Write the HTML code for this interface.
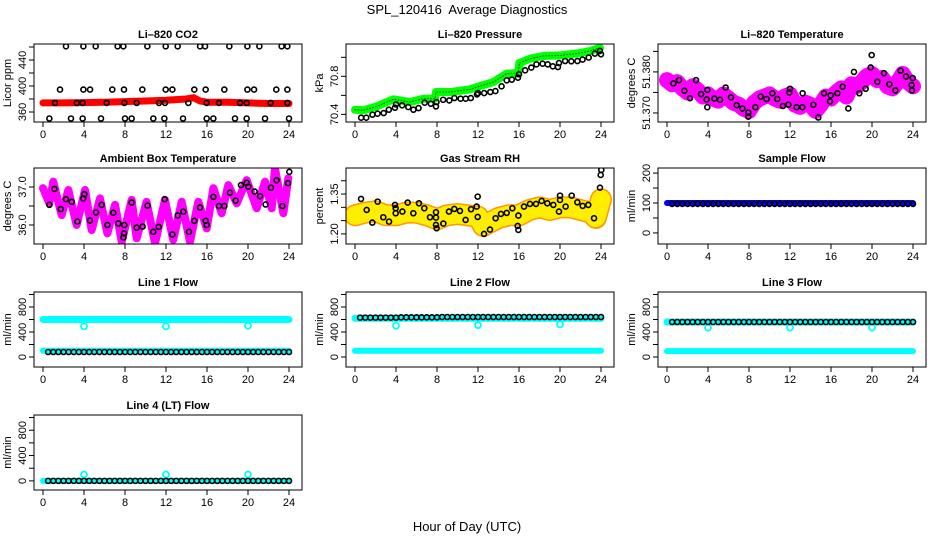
<!DOCTYPE html>
<html><head><meta charset="utf-8"><title>SPL_120416 Average Diagnostics</title>
<style>
html,body{margin:0;padding:0;background:#fff;}
svg{display:block;font-family:"Liberation Sans",Arial,sans-serif;}
</style></head>
<body>
<svg id="chart" width="936" height="540" viewBox="0 0 936 540" xmlns="http://www.w3.org/2000/svg">
<rect x="0" y="0" width="936" height="540" fill="#fff"/>
<text x="467" y="14" text-anchor="middle" font-size="13" style="white-space:pre">SPL_120416  Average Diagnostics</text>
<text x="467" y="531" text-anchor="middle" font-size="13">Hour of Day (UTC)</text>
</svg>
<script>
const xTicks=[0,4,8,12,16,20,24];
const halfHours=[0.5,1,1.5,2,2.5,3,3.5,4,4.5,5,5.5,6,6.5,7,7.5,8,8.5,9,9.5,10,10.5,11,11.5,12,12.5,13,13.5,14,14.5,15,15.5,16,16.5,17,17.5,18,18.5,19,19.5,20,20.5,21,21.5,22,22.5,23,23.5,24];
const bandTimes=[0,4,8,12,16,20,24];
const dipTimes=[4,12,20];

// CO2
const co2Times=[2.24,3.94,5.14,7.28,7.84,10.18,11.97,13.14,15.32,15.81,18.18,19.94,21.11,23.28,23.84,
1.66,3.94,4.59,6.76,7.9,9.69,11.97,12.62,14.76,15.87,17.69,19.94,20.59,22.76,23.84,
1.17,3.3,3.87,6.21,7.93,9.14,11.32,11.9,14.18,15.97,17.17,19.22,19.87,22.21,23.84,
0.62,2.73,3.87,5.66,8.0,8.65,10.76,11.84,13.66,15.97,16.62,18.73,19.87,21.66,24.0];
const co2Values=[461,461,461,461,461,461,461,461,461,461,461,461,461,461,461,
394.5,394.5,394.5,394.5,394.5,394.5,394.5,394.5,394.5,394.5,394.5,394.5,394.5,394.5,394.5,
374,374,374,374,374,374,374,374,374,374,374,374,374,374,374,
350,350,350,350,350,350,350,350,350,350,350,350,350,350,350];
const co2RedTimes=[0,2,4,6,8,10,12,13,14,14.7,15.3,16,18,20,22,24];
const co2RedValues=[374,374,374.5,375,376,377,378,379,380,382,377,375,375,374,373,373];

// Pressure
const presGreenTimes=[0,0.81,2.11,3.74,5.37,6.67,7.8,7.9,9.27,11.22,11.87,13.5,14.8,15.94,16.03,17.07,18.37,20.0,21.63,22.93,23.9];
const presGreenValues=[70.449,70.443,70.484,70.558,70.53,70.565,70.565,70.635,70.635,70.663,70.687,70.74,70.828,70.835,70.94,70.986,71.014,71.02,71.04,71.066,71.10];
const presBlackTimes=[0.6,1.1,1.7,2.2,2.8,3.3,3.9,4.0,4.6,5.2,5.7,6.2,6.8,7.4,7.9,7.95,8.6,9.2,9.7,10.3,10.8,11.3,11.9,12.0,12.6,13.2,13.7,14.3,14.8,15.3,15.9,16.0,16.6,17.2,17.7,18.3,18.8,19.3,19.8,19.9,20.5,21.1,21.7,22.2,22.8,23.4,23.9,24.0];
const presBlackValues=[70.365,70.365,70.397,70.407,70.414,70.449,70.47,70.505,70.495,70.477,70.449,70.466,70.523,70.512,70.484,70.53,70.554,70.547,70.572,70.565,70.565,70.572,70.61,70.624,70.624,70.635,70.645,70.695,70.758,70.765,70.786,70.821,70.863,70.892,70.926,70.933,70.926,70.905,70.898,70.94,70.961,70.958,70.961,70.976,70.997,71.039,71.067,71.032];

// Li-820 temperature
const ltMagTimes=[0,0.5,1,1.5,2,2.5,3,3.5,4,4.5,5,5.5,6,6.5,7,7.5,8,8.5,9,9.5,10,10.5,11,11.5,12,12.5,13,13.5,14,14.5,15,15.5,16,16.5,17,17.5,18,18.5,19,19.5,20,20.5,21,21.5,22,22.5,23,23.5,24];
const ltMagValues=[51.3780,51.3770,51.3775,51.3760,51.3750,51.3765,51.3755,51.3740,51.3745,51.3735,51.3730,51.3745,51.3735,51.3725,51.3720,51.3710,51.3705,51.3725,51.3735,51.3740,51.3745,51.3735,51.3730,51.3740,51.3745,51.3720,51.3715,51.3725,51.3720,51.3705,51.3720,51.3740,51.3735,51.3750,51.3760,51.3740,51.3770,51.3765,51.3775,51.3790,51.3795,51.3780,51.3785,51.3765,51.3760,51.3775,51.3795,51.3775,51.3765];
const ltBlackTimes=[0.62,1.17,1.69,2.24,2.83,3.32,3.93,3.87,3.93,4.62,5.17,5.72,6.24,6.8,7.35,7.93,7.93,8.62,9.14,9.72,10.28,10.76,11.31,11.84,11.93,12.0,12.65,13.2,13.23,14.28,14.76,15.32,15.97,15.9,16.62,17.14,17.69,18.24,18.76,19.38,19.87,19.97,20.52,21.17,21.69,22.28,22.8,23.32,23.87,23.97,23.9];
const ltBlackValues=[51.3772,51.3780,51.3754,51.3736,51.3780,51.3746,51.3756,51.3733,51.3714,51.3735,51.3732,51.3762,51.3738,51.3719,51.3711,51.3691,51.3701,51.3714,51.3740,51.3734,51.3748,51.3734,51.3717,51.3720,51.3750,51.3759,51.3714,51.3714,51.3748,51.3720,51.3689,51.3748,51.3743,51.3728,51.3748,51.3764,51.3711,51.3800,51.3748,51.3759,51.3811,51.3841,51.3776,51.3797,51.3770,51.3755,51.3803,51.3789,51.3768,51.3785,51.3755];

// Ambient box temperature
const ambMagTimes=[0,0.62,1.0,1.82,2.47,3.28,4.1,4.75,5.56,6.28,7.03,7.68,8.65,9.14,10.1,10.93,11.9,12.7,13.53,14.34,15.15,15.97,16.62,17.43,18.08,18.9,19.87,20.85,21.66,22.31,22.63,23.45,23.93];
const ambMagValues=[36.97,36.57,37.14,36.26,36.92,36.0,36.92,35.87,36.70,35.78,36.53,35.56,36.66,35.65,36.61,35.52,36.66,35.61,36.61,35.56,36.61,35.91,36.97,36.31,37.05,36.57,37.18,36.44,37.14,36.44,37.49,36.31,37.23];
const ambBlackTimes=[0.62,1.11,1.73,2.24,2.8,3.35,3.93,4.03,4.58,5.17,5.72,6.28,6.86,7.35,7.93,7.9,7.84,8.65,9.14,9.72,10.21,10.76,11.28,11.87,12.62,13.14,13.69,14.24,14.76,15.32,15.87,15.97,16.62,17.17,17.69,18.24,18.8,19.32,19.87,20.03,20.65,21.17,21.72,22.24,22.79,23.35,23.9,24.03];
const ambBlackValues=[36.53,36.95,36.42,36.68,36.61,36.09,36.70,36.81,36.12,36.33,36.53,36.0,36.32,36.04,36.0,35.78,35.67,36.59,35.93,35.96,36.51,35.82,35.95,36.68,35.75,36.25,36.35,35.82,36.11,36.46,36.11,36.0,36.74,36.50,36.50,36.85,36.64,37.05,37.11,37.01,36.88,36.76,36.54,36.98,37.18,36.50,37.10,37.40];

// Gas stream RH
const rhBandTimes=[0,1,2,3,4,5,6,7,8,9,10,11,12,12.5,13,14,15,16,17,18,19,20,21,22,23,23.5,24];
const rhBandValues=[1.27,1.28,1.285,1.27,1.27,1.28,1.28,1.27,1.255,1.27,1.275,1.27,1.265,1.23,1.24,1.26,1.27,1.27,1.29,1.30,1.29,1.30,1.30,1.29,1.28,1.26,1.33];
const rhBlackTimes=[0.59,1.14,1.69,2.21,2.76,3.32,3.9,3.97,3.97,4.62,5.14,5.69,6.24,6.76,7.32,7.9,7.9,7.9,7.96,8.62,9.17,9.69,10.24,10.79,11.32,11.87,11.97,11.97,12.59,13.17,13.72,14.24,14.8,15.35,15.94,15.87,15.94,16.49,17.07,17.66,18.21,18.76,19.35,19.9,20.0,20.0,20.55,21.14,21.69,22.21,22.76,23.32,23.9,23.97,24.03];
const rhBlackValues=[1.3316,1.2902,1.2425,1.3215,1.2627,1.2462,1.309,1.2965,1.2777,1.2840,1.3178,1.2777,1.3153,1.2965,1.2627,1.2614,1.2815,1.2338,1.2213,1.2388,1.2840,1.2940,1.2865,1.2526,1.2928,1.3028,1.2639,1.3403,1.2000,1.2163,1.2589,1.2752,1.2790,1.2965,1.2689,1.2301,1.2150,1.3028,1.3128,1.3128,1.3240,1.3153,1.3090,1.2840,1.3278,1.3440,1.3028,1.3440,1.3190,1.3053,1.3090,1.2589,1.3740,1.4218,1.4406];

// Sample flow
const sampleBlueValues=[100,100,100,100,100,100,100];
const sampleBlackValues=[97,97,97,97,97,97,97,97,97,97,97,97,97,97,97,97,97,97,97,97,97,97,97,97,97,97,97,97,97,97,97,97,97,97,97,97,97,97,97,97,97,97,97,97,97,97,97,97];

// Line flows
const line1CyanTop=[600,600,600,600,600,600,600];
const line1CyanLow=[100,100,100,100,100,100,100];
const line1Dips=[490,490,500];
const line1Black=[80,80,80,80,80,80,80,80,80,80,80,80,80,80,80,80,80,80,80,80,80,80,80,80,80,80,80,80,80,80,80,80,80,80,80,80,80,80,80,80,80,80,80,80,80,80,80,80];
const line2CyanTop=[620,620,620,620,620,620,620];
const line2CyanLow=[100,100,100,100,100,100,100];
const line2Dips=[500,510,520];
const line2Black=[630,630,630,630,630,630,630,630,635,635,635,635,635,635,635,635,640,640,640,640,640,640,640,640,640,640,640,640,640,640,640,640,640,640,640,640,640,640,640,640,640,640,640,640,640,640,640,640];
const line3CyanTop=[560,560,560,560,560,560,560];
const line3CyanLow=[95,95,95,95,95,95,95];
const line3Dips=[470,470,470];
const line3Black=[560,560,560,560,560,560,560,560,560,560,560,560,560,560,560,560,560,560,560,560,560,560,560,560,560,560,560,560,560,560,560,560,560,560,560,560,560,560,560,560,560,560,560,560,560,560,560,560];
const line4CyanLow=[0,0,0,0,0,0,0];
const line4Dips=[100,100,100];
const line4Black=[0,0,0,0,0,0,0,0,0,0,0,0,0,0,0,0,0,0,0,0,0,0,0,0,0,0,0,0,0,0,0,0,0,0,0,0,0,0,0,0,0,0,0,0,0,0,0,0];

const flowTicks=[0,200,400,600,800,1000];
const flowLabels=["0","","400","","800",""];

const NS="http://www.w3.org/2000/svg";
const svg=document.getElementById("chart");
const rowTops=[44,168,292,415], rowBots=[122,244,367,490];

function mk(tag,parent){const e=document.createElementNS(NS,tag);parent.appendChild(e);return e;}

function panel(name,col,row,title,ylab,ymin,ymax,ticks,labels){
  const p={name,col,row,ymin,ymax,top:rowTops[row],bot:rowBots[row],left:34+312*col,right:302+312*col,x0:43+312*col};
  p.sx=h=>p.x0+h*10.25;
  p.sy=v=>p.bot-(v-p.ymin)/(p.ymax-p.ymin)*(p.bot-p.top);
  const g=mk("g",svg);
  
  
  p.g=g;
  const t=mk("text",g);
  
  
  t.setAttribute("x",(p.left+p.right)/2);t.setAttribute("y",p.top-6);
  t.setAttribute("text-anchor","middle");t.setAttribute("font-size","11");t.setAttribute("font-weight","bold");
  t.textContent=title;
  const yl=mk("text",g);
  
  
  const ylx=p.left-23, yly=(p.top+p.bot)/2;
  yl.setAttribute("transform","translate("+ylx+","+yly+") rotate(-90)");
  yl.setAttribute("text-anchor","middle");yl.setAttribute("font-size","11");
  yl.textContent=ylab;
  xTicks.forEach(h=>{
    const l=mk("line",g);
    
    
    l.setAttribute("x1",p.sx(h));l.setAttribute("x2",p.sx(h));l.setAttribute("y1",p.bot);l.setAttribute("y2",p.bot+5);
    l.setAttribute("stroke","#000");
    const tx=mk("text",g);
    
    
    tx.setAttribute("x",p.sx(h));tx.setAttribute("y",p.bot+16);tx.setAttribute("text-anchor","middle");tx.setAttribute("font-size","11");
    tx.textContent=String(h);
  });
  ticks.forEach((v,i)=>{
    const y=p.sy(v);
    const l=mk("line",g);
    
    
    l.setAttribute("x1",p.left-5);l.setAttribute("x2",p.left);l.setAttribute("y1",y);l.setAttribute("y2",y);
    l.setAttribute("stroke","#000");
    if(labels[i]){
      const tx=mk("text",g);
      
      
      tx.setAttribute("transform","translate("+(p.left-8)+","+y+") rotate(-90)");
      tx.setAttribute("text-anchor","middle");tx.setAttribute("font-size","11");
      tx.textContent=labels[i];
    }
  });
  const clip=mk("clipPath",g);clip.setAttribute("id","clip-"+name);
  const cr=mk("rect",clip);cr.setAttribute("x",p.left);cr.setAttribute("y",p.top);cr.setAttribute("width",p.right-p.left);cr.setAttribute("height",p.bot-p.top);
  const data=mk("g",g);
  
  
  data.setAttribute("clip-path","url(#clip-"+name+")");
  p.data=data;
  const box=mk("rect",g);
  
  
  box.setAttribute("x",p.left);box.setAttribute("y",p.top);box.setAttribute("width",p.right-p.left);box.setAttribute("height",p.bot-p.top);
  box.setAttribute("fill","none");box.setAttribute("stroke","#000");
  return p;
}
function band(p,times,vals,color,w,nm,dash){
  const pl=mk("polyline",p.data);
  
  
  pl.setAttribute("points",times.map((h,i)=>p.sx(h)+","+p.sy(vals[i])).join(" "));
  pl.setAttribute("fill","none");pl.setAttribute("stroke",color);pl.setAttribute("stroke-width",w);
  pl.setAttribute("stroke-linejoin","round");pl.setAttribute("stroke-linecap","round");
  if(dash)pl.setAttribute("stroke-dasharray",dash);
  return pl;
}
function pts(p,times,vals,color,nm,r,sw){
  times.forEach((h,i)=>{
    const c=mk("circle",p.data);
    
    
    c.setAttribute("cx",p.sx(h));c.setAttribute("cy",p.sy(vals[i]));c.setAttribute("r",r||2.5);
    c.setAttribute("fill","none");c.setAttribute("stroke",color);c.setAttribute("stroke-width",sw||1.6);
  });
}

let p=panel("co2",0,0,"Li\u2013820 CO2","Licor ppm",344.6,464.6,[360,380,400,420,440,460],["360","","400","","440",""]);
band(p,co2RedTimes,co2RedValues,"#ff0000",7,"co2-red-series");
pts(p,co2Times,co2Values,"#000","co2-black-point");

p=panel("pressure",1,0,"Li\u2013820 Pressure","kPa",70.32,71.14,[70.4,70.6,70.8,71.0],["70.4","","70.8",""]);
band(p,presGreenTimes,presGreenValues,"#00ff00",8,"pressure-green-series");
band(p,presGreenTimes,presGreenValues,"#006600",1,"pressure-green-texture","1 2");
pts(p,presBlackTimes,presBlackValues,"#000","pressure-black-point");

p=panel("licor-temp",2,0,"Li\u2013820 Temperature","degrees C",51.3678,51.3868,[51.370,51.375,51.380,51.385],["51.370","","51.380",""]);
band(p,ltMagTimes,ltMagValues,"#ff00ff",16,"licor-temp-magenta-series");
pts(p,ltBlackTimes,ltBlackValues,"#000","licor-temp-black-point");

p=panel("ambient-temp",0,1,"Ambient Box Temperature","degrees C",35.5,37.5,[36.0,36.5,37.0],["36.0","","37.0"]);
band(p,ambMagTimes,ambMagValues,"#ff00ff",8,"ambient-temp-magenta-series");
pts(p,ambBlackTimes,ambBlackValues,"#000","ambient-temp-black-point");

p=panel("gas-rh",1,1,"Gas Stream RH","percent",1.162,1.448,[1.20,1.25,1.30,1.35,1.40],["1.20","","","1.35",""]);
band(p,rhBandTimes,rhBandValues,"#ff9900",22,"gas-rh-orange-series");
band(p,rhBandTimes,rhBandValues,"#ffee00",19,"gas-rh-yellow-texture","1.5 2");
pts(p,rhBlackTimes,rhBlackValues,"#000","gas-rh-black-point");

p=panel("sample-flow",2,1,"Sample Flow","ml/min",-37,217,[0,50,100,150,200],["0","","100","","200"]);
band(p,bandTimes,sampleBlueValues,"#0000ff",6,"sample-flow-blue-series");
pts(p,halfHours,sampleBlackValues,"#000","sample-flow-black-point",2.5,1.6);

p=panel("line1-flow",0,2,"Line 1 Flow","ml/min",-160,1040,flowTicks,flowLabels);
band(p,bandTimes,line1CyanTop,"#00ffff",7,"line1-cyan-upper");
band(p,bandTimes,line1CyanLow,"#00ffff",6,"line1-cyan-lower");
pts(p,dipTimes,line1Dips,"#00ffff","line1-cyan-dip",3,1.8);
pts(p,halfHours,line1Black,"#000","line1-black-point");

p=panel("line2-flow",1,2,"Line 2 Flow","ml/min",-160,1040,flowTicks,flowLabels);
band(p,bandTimes,line2CyanTop,"#00ffff",7,"line2-cyan-upper");
band(p,bandTimes,line2CyanLow,"#00ffff",6,"line2-cyan-lower");
pts(p,dipTimes,line2Dips,"#00ffff","line2-cyan-dip",3,1.8);
pts(p,halfHours,line2Black,"#000","line2-black-point");

p=panel("line3-flow",2,2,"Line 3 Flow","ml/min",-160,1040,flowTicks,flowLabels);
band(p,bandTimes,line3CyanTop,"#00ffff",7,"line3-cyan-upper");
band(p,bandTimes,line3CyanLow,"#00ffff",6,"line3-cyan-lower");
pts(p,dipTimes,line3Dips,"#00ffff","line3-cyan-dip",3,1.8);
pts(p,halfHours,line3Black,"#000","line3-black-point");

p=panel("line4-flow",0,3,"Line 4 (LT) Flow","ml/min",-144,1040,flowTicks,flowLabels);
band(p,bandTimes,line4CyanLow,"#00ffff",6,"line4-cyan-lower");
pts(p,dipTimes,line4Dips,"#00ffff","line4-cyan-dip",3,1.8);
pts(p,halfHours,line4Black,"#000","line4-black-point");
</script>
</body></html>
